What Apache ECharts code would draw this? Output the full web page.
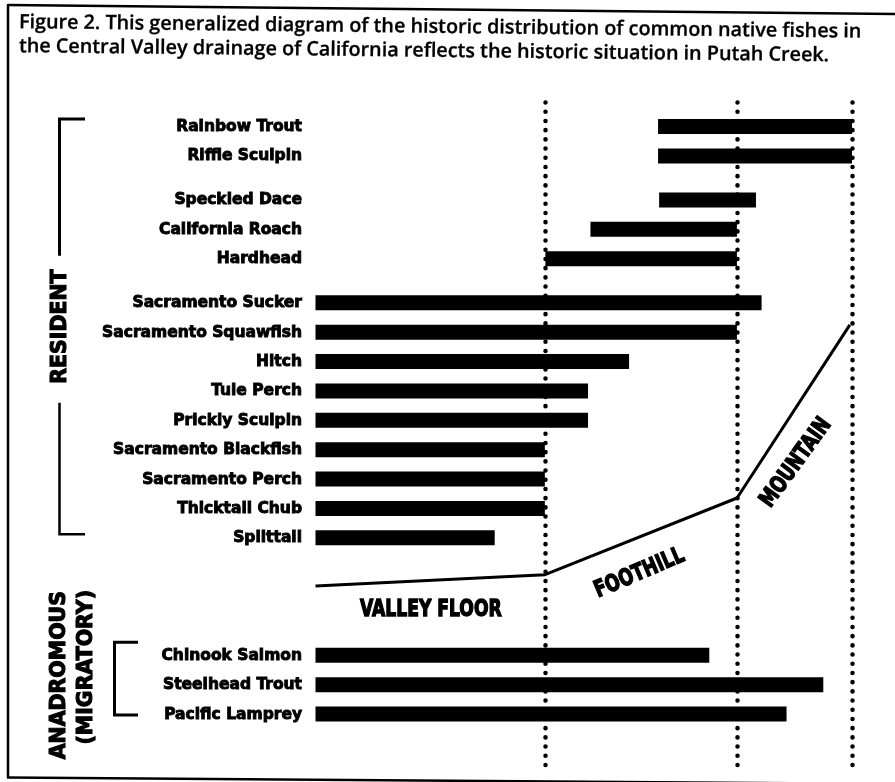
<!DOCTYPE html>
<html><head><meta charset="utf-8">
<script src="https://cdn.jsdelivr.net/npm/echarts@6/dist/echarts.min.js"></script>
<style>html,body{margin:0;padding:0;background:#fff}#c{width:895px;height:782px}</style>
</head><body><div id="c"></div>
<script>
// ---------------- data ----------------
const captionLines = [
  'Figure 2. This generalized diagram of the historic distribution of common native fishes in',
  'the Central Valley drainage of California reflects the historic situation in Putah Creek.'
];
const residentLabel = 'RESIDENT';
const migratoryLabel = ['ANADROMOUS', '(MIGRATORY)'];
const zoneNames = ['VALLEY FLOOR', 'FOOTHILL', 'MOUNTAIN'];
// zone boundaries along the valley-to-mountain gradient (0 = valley floor edge, 100 = mountain crest)
const zoneBounds = [42.75, 78.55, 100];

const fishNames = ['Rainbow Trout', 'Riffle Sculpin', 'Speckled Dace', 'California Roach', 'Hardhead',
  'Sacramento Sucker', 'Sacramento Squawfish', 'Hitch', 'Tule Perch', 'Prickly Sculpin',
  'Sacramento Blackfish', 'Sacramento Perch', 'Thicktail Chub', 'Splittail',
  'Chinook Salmon', 'Steelhead Trout', 'Pacific Lamprey'];
const rangeStart = [63.85, 63.85, 64.05, 51.25, 42.85, 0, 0, 0, 0, 0, 0, 0, 0, 0, 0, 0, 0];
const rangeEnd   = [100, 100, 82.1, 78.55, 78.55, 83.15, 78.55, 58.45, 50.8, 50.8, 42.75, 42.75, 42.75, 33.4, 73.4, 94.65, 87.8];
// visual grouping of the species list (resident upper, resident mid, resident lower, anadromous)
const fishBand = [0, 0, 1, 1, 1, 2, 2, 2, 2, 2, 2, 2, 2, 2, 3, 3, 3];
const residentBands = [0, 1, 2];
const migratoryBands = [3];

// generalized elevation profile
const profileX = [0, 42.78, 78.57, 99.6];
const profileElev = [26.7, 28.4, 39.85, 65.7];

// ---------------- layout ----------------
const FONT = '"DejaVu Sans", "Liberation Sans", Arial, sans-serif';
const bandExtraGap = [0, 0.5, 0.5, 3];
const rowPos = [];
fishBand.forEach((b, i) => {
  if (i === 0) rowPos.push(0);
  else rowPos.push(rowPos[i - 1] + 1 + (b !== fishBand[i - 1] ? bandExtraGap[b] : 0));
});
const GRID_TOP = 95, GRID_H = 670, FIRST_ROW_Y = 126.5, ROW_PX = 29.375;
const yMin = -(FIRST_ROW_Y - GRID_TOP) / ROW_PX;
const yMax = (GRID_TOP + GRID_H - FIRST_ROW_Y) / ROW_PX;
const BAR_H = 15;

const barData = fishNames.map((n, i) => [rangeStart[i], rangeEnd[i], rowPos[i], i]);

const chart = echarts.init(document.getElementById('c'), null, {renderer: 'canvas'});

chart.setOption({
  backgroundColor: '#fff',
  animation: false,
  grid: {left: 315.5, top: GRID_TOP, width: 536.5, height: GRID_H},
  xAxis: {type: 'value', min: 0, max: 100, show: false},
  yAxis: [
    {type: 'value', min: yMin, max: yMax, inverse: true, show: false},
    {type: 'value', min: 0, max: 100, show: false}
  ],
  series: [
    {
      type: 'custom',
      clip: false,
      data: barData,
      renderItem: function (params, api) {
        const s = api.coord([api.value(0), api.value(2)]);
        const e = api.coord([api.value(1), api.value(2)]);
        const z0 = api.coord([0, api.value(2)]);
        const name = fishNames[api.value(3)];
        return {
          type: 'group',
          children: [
            {type: 'rect', shape: {x: s[0], y: s[1] - BAR_H / 2, width: e[0] - s[0], height: BAR_H},
             style: {fill: '#000'}},
            {type: 'text', style: {text: name, x: z0[0] - 13.5, y: s[1] + 0.5, align: 'right', verticalAlign: 'middle',
             fontFamily: FONT, fontWeight: 'bold', fontSize: 15.5, fill: '#000',
             stroke: '#000', lineWidth: 0.9}}
          ]
        };
      }
    },
    {
      type: 'line',
      yAxisIndex: 1,
      data: profileX.map((x, i) => [x, profileElev[i]]),
      symbol: 'none',
      lineStyle: {color: '#000', width: 3},
      silent: true,
      markLine: {
        silent: true,
        symbol: ['none', 'none'],
        label: {show: false},
        lineStyle: {color: '#000', width: 4.5, type: [0.1, 9.1], cap: 'round'},
        data: zoneBounds.map(v => ({xAxis: v}))
      }
    }
  ]
});

// ---------------- annotations ----------------
const yPx = r => chart.convertToPixel({yAxisIndex: 0}, r);
const zonePx = (x, e) => chart.convertToPixel({seriesIndex: 1}, [x, e]);

function bandRows(bands) {
  const rows = rowPos.filter((r, i) => bands.indexOf(fishBand[i]) >= 0);
  return [Math.min.apply(null, rows), Math.max.apply(null, rows)];
}

const ctx = document.createElement('canvas').getContext('2d');
ctx.font = '600 18px "Open Sans"';
const capW = ctx.measureText(captionLines[0]).width;
const capFs = 18 * 843 / capW;
const capRot = -0.0112; // caption block sits slightly askew in the scan

const heavy = {stroke: '#000', lineWidth: 1.1};

const g = [];
// frame
g.push({type: 'polyline', silent: true, shape: {points: [[8, 5], [895, 14]]}, style: {stroke: '#000', lineWidth: 2.5, fill: null}});
g.push({type: 'polyline', silent: true, shape: {points: [[8, 4], [8, 778]]}, style: {stroke: '#000', lineWidth: 2.5, fill: null}});
g.push({type: 'polyline', silent: true, shape: {points: [[7, 777.5], [895, 784]]}, style: {stroke: '#000', lineWidth: 2.5, fill: null}});
// caption
captionLines.forEach((t, i) => g.push({type: 'text', silent: true, x: 19, y: 22.5 + i * 24, rotation: capRot,
  style: {text: t, x: 0, y: 0, align: 'left', verticalAlign: 'middle', fontFamily: '"Open Sans", sans-serif',
    fontWeight: 600, fontSize: capFs, fill: '#000', stroke: '#000', lineWidth: 0.3}}));

// resident bracket
const rr = bandRows(residentBands);
const resTop = yPx(rr[0]) - 7.5, resBot = yPx(rr[1]) - 3.5, resMid = (resTop + resBot) / 2;
const bx = 59.5;
g.push({type: 'polyline', silent: true, shape: {points: [[85, resTop], [bx, resTop], [bx, resMid - 71]]},
  style: {stroke: '#000', lineWidth: 3, fill: null}});
g.push({type: 'polyline', silent: true, shape: {points: [[bx, resMid + 76], [bx, resBot], [85, resBot]]},
  style: {stroke: '#000', lineWidth: 2.5, fill: null}});
g.push({type: 'text', silent: true, x: bx + 1, y: resMid, rotation: Math.PI / 2,
  style: Object.assign({text: residentLabel, x: 0, y: 0, align: 'center', verticalAlign: 'middle', fontFamily: FONT,
    fontWeight: 'bold', fontSize: 20.5, fill: '#000'}, heavy)});

// migratory bracket
const mr = bandRows(migratoryBands);
const mTop = yPx(mr[0]) - 13, mBot = yPx(mr[1]) + 1, mx = 114.5;
g.push({type: 'polyline', silent: true, shape: {points: [[138, mTop], [mx, mTop], [mx, mBot], [138, mBot]]},
  style: {stroke: '#000', lineWidth: 3, fill: null}});
g.push({type: 'text', silent: true, x: 60, y: 591, rotation: Math.PI / 2,
  style: Object.assign({text: migratoryLabel[0], x: 0, y: 0, align: 'right', verticalAlign: 'middle', fontFamily: FONT,
    fontWeight: 'bold', fontSize: 20.5, fill: '#000'}, heavy)});
g.push({type: 'text', silent: true, x: 87, y: 590, rotation: Math.PI / 2,
  style: Object.assign({text: migratoryLabel[1], x: 0, y: 0, align: 'right', verticalAlign: 'middle', fontFamily: FONT,
    fontWeight: 'bold', fontSize: 20.5, fill: '#000'}, heavy)});

// zone labels
const zoneLabelAt = [[21.5, 23.1, 0], [60.4, 28.6, 23], [89.6, 45.1, 54]];
zoneNames.forEach((n, i) => {
  const p = zonePx(zoneLabelAt[i][0], zoneLabelAt[i][1]);
  g.push({type: 'text', silent: true, x: p[0], y: p[1], rotation: zoneLabelAt[i][2] * Math.PI / 180,
    scaleX: 0.78, scaleY: 1.04,
    style: {text: n, x: 0, y: 0, align: 'center', verticalAlign: 'middle', fontFamily: FONT,
      fontWeight: 'bold', fontSize: 22, fill: '#000', stroke: '#000', lineWidth: 1.4}});
});

chart.setOption({graphic: g});
</script>
</body></html>
